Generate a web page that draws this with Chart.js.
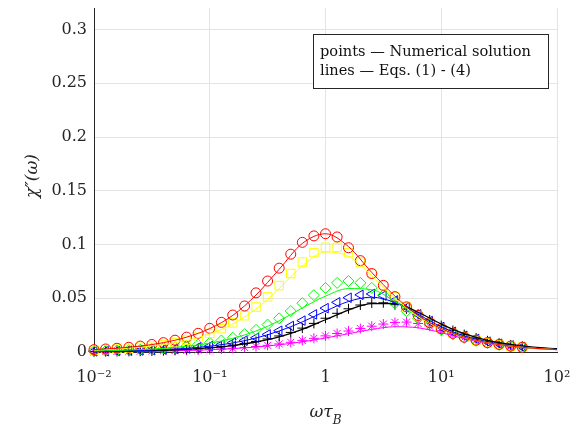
<!DOCTYPE html>
<html>
<head>
<meta charset="utf-8">
<script src="https://cdn.jsdelivr.net/npm/chart.js@4.4.1/dist/chart.umd.min.js"></script>
<style>
  html, body { margin: 0; padding: 0; background: #fff; }
  #wrap { width: 580px; height: 430px; }
</style>
</head>
<body>
<div id="wrap"><canvas id="chart" width="580" height="430"></canvas></div>
<script>
// omega*tau_B at the markers (10 per decade) and along the curves (5 per decade)
const omegaPts = [0.01, 0.0126, 0.0158, 0.02, 0.0251, 0.0316, 0.0398, 0.0501, 0.0631, 0.0794,
  0.1, 0.126, 0.158, 0.2, 0.251, 0.316, 0.398, 0.501, 0.631, 0.794,
  1, 1.26, 1.58, 2, 2.51, 3.16, 3.98, 5.01, 6.31, 7.94,
  10, 12.6, 15.8, 20, 25.1, 31.6, 39.8, 50.1];
const omegaLine = [0.01, 0.0158, 0.0251, 0.0398, 0.0631, 0.1, 0.158, 0.251, 0.398, 0.631,
  1, 1.58, 2.51, 3.98, 6.31, 10, 15.8, 25.1, 39.8, 63.1, 100];

// numerical solution (markers)
const redPts = [0.0022, 0.0028, 0.0035, 0.0044, 0.0055, 0.0070, 0.0087, 0.0110, 0.0138, 0.0174,
  0.0220, 0.0276, 0.0344, 0.0428, 0.0550, 0.0660, 0.0780, 0.0910, 0.1020, 0.1080,
  0.1100, 0.1070, 0.0970, 0.0850, 0.0730, 0.0620, 0.0515, 0.0420, 0.0340, 0.0273,
  0.0218, 0.0174, 0.0138, 0.0110, 0.0087, 0.0070, 0.0055, 0.0044];
const yellowPts = [0.0017, 0.0022, 0.0028, 0.0035, 0.0044, 0.0055, 0.0069, 0.0087, 0.0110, 0.0138,
  0.0173, 0.0217, 0.0271, 0.0338, 0.0418, 0.0512, 0.0618, 0.0730, 0.0837, 0.0924,
  0.0974, 0.0974, 0.0924, 0.0837, 0.0730, 0.0618, 0.0512, 0.0418, 0.0338, 0.0271,
  0.0217, 0.0173, 0.0138, 0.0110, 0.0087, 0.0069, 0.0055, 0.0044];
const greenPts = [0.0009, 0.0011, 0.0014, 0.0018, 0.0022, 0.0028, 0.0035, 0.0044, 0.0055, 0.0069,
  0.0086, 0.0107, 0.0133, 0.0166, 0.0206, 0.0255, 0.0313, 0.0381, 0.0454, 0.0529,
  0.0596, 0.0643, 0.0660, 0.0643, 0.0596, 0.0529, 0.0454, 0.0380, 0.0312, 0.0253,
  0.0204, 0.0164, 0.0131, 0.0104, 0.0083, 0.0066, 0.0052, 0.0042];
const bluePts = [0.0006, 0.0007, 0.0009, 0.0012, 0.0014, 0.0018, 0.0022, 0.0028, 0.0035, 0.0044,
  0.0055, 0.0069, 0.0086, 0.0107, 0.0133, 0.0163, 0.0198, 0.0242, 0.0292, 0.0350,
  0.0408, 0.0462, 0.0505, 0.0532, 0.0540, 0.0525, 0.0480, 0.0415, 0.0350, 0.0288,
  0.0233, 0.0188, 0.0151, 0.0121, 0.0096, 0.0077, 0.0061, 0.0048];
const blackPts = [0.0004, 0.0005, 0.0006, 0.0008, 0.0010, 0.0013, 0.0016, 0.0020, 0.0025, 0.0032,
  0.0040, 0.0050, 0.0063, 0.0079, 0.0098, 0.0121, 0.0149, 0.0182, 0.0222, 0.0266,
  0.0314, 0.0360, 0.0402, 0.0437, 0.0456, 0.0458, 0.0440, 0.0402, 0.0352, 0.0298,
  0.0246, 0.0200, 0.0162, 0.0130, 0.0104, 0.0083, 0.0066, 0.0053];
const magentaPts = [0.0003, 0.0004, 0.0005, 0.0006, 0.0007, 0.0009, 0.0011, 0.0013, 0.0016, 0.0019,
  0.0023, 0.0028, 0.0034, 0.0042, 0.0051, 0.0062, 0.0075, 0.0090, 0.0108, 0.0127,
  0.0150, 0.0172, 0.0195, 0.0218, 0.0240, 0.0260, 0.0275, 0.0278, 0.0265, 0.0240,
  0.0200, 0.0165, 0.0133, 0.0108, 0.0086, 0.0068, 0.0053, 0.0042];

// Eqs. (1) - (4) (lines)
const redLine = [0.0022, 0.0035, 0.0055, 0.0087, 0.0138, 0.0218, 0.0340, 0.0530, 0.0770, 0.1010,
  0.1100, 0.0980, 0.0740, 0.0520, 0.0340, 0.0218, 0.0138, 0.0087, 0.0055, 0.0035, 0.0022];
const yellowLine = [0.0017, 0.0028, 0.0044, 0.0069, 0.0108, 0.0168, 0.0260, 0.0400, 0.0590, 0.0800,
  0.0930, 0.0890, 0.0710, 0.0500, 0.0330, 0.0213, 0.0136, 0.0086, 0.0055, 0.0035, 0.0022];
const greenLine = [0.0009, 0.0014, 0.0022, 0.0034, 0.0053, 0.0082, 0.0127, 0.0195, 0.0290, 0.0410,
  0.0520, 0.0590, 0.0580, 0.0470, 0.0330, 0.0215, 0.0138, 0.0087, 0.0055, 0.0035, 0.0022];
const blueLine = [0.0006, 0.0009, 0.0014, 0.0022, 0.0034, 0.0054, 0.0084, 0.0130, 0.0195, 0.0280,
  0.0380, 0.0470, 0.0510, 0.0460, 0.0350, 0.0235, 0.0150, 0.0095, 0.0060, 0.0038, 0.0024];
const blackLine = [0.0004, 0.0006, 0.0010, 0.0015, 0.0024, 0.0038, 0.0060, 0.0093, 0.0140, 0.0210,
  0.0300, 0.0390, 0.0450, 0.0450, 0.0370, 0.0260, 0.0170, 0.0108, 0.0070, 0.0045, 0.0030];
const magentaLine = [0.0002, 0.0004, 0.0006, 0.0009, 0.0014, 0.0021, 0.0031, 0.0046, 0.0067, 0.0095,
  0.0130, 0.0170, 0.0210, 0.0235, 0.0225, 0.0180, 0.0125, 0.0082, 0.0052, 0.0033, 0.0021];

const xTicks = [0.01, 0.1, 1, 10, 100];
const xTickLabels = ['10\u207B\u00B2', '10\u207B\u00B9', '1', '10\u00B9', '10\u00B2'];
const yTicks = [0, 0.05, 0.1, 0.15, 0.2, 0.25, 0.3];
const yTickLabels = ['0', '0.05', '0.1', '0.15', '0.2', '0.25', '0.3'];
const noteLines = ['points \u2014 Numerical solution', 'lines \u2014 Eqs. (1) - (4)'];

const SERIF = "'DejaVu Serif', serif";
const INK = '#262626';

function pairs(xs, ys) {
  return ys.map((y, i) => ({ x: xs[i], y }));
}

function curve(data, color, width = 1) {
  return {
    data: pairs(omegaLine, data),
    showLine: true,
    borderColor: color,
    borderWidth: width,
    pointRadius: 0,
    cubicInterpolationMode: 'monotone',
    fill: false,
  };
}

function markers(data, color, style, radius, rotation = 0) {
  return {
    data: pairs(omegaPts, data),
    showLine: false,
    pointStyle: style,
    pointRadius: radius,
    pointRotation: rotation,
    pointBorderColor: color,
    pointBackgroundColor: 'rgba(0,0,0,0)',
    pointBorderWidth: 1,
    clip: false,
  };
}

const overlay = {
  id: 'overlay',
  afterDraw(chart) {
    const { ctx, chartArea } = chart;
    ctx.save();
    // note box
    ctx.fillStyle = '#fff';
    ctx.fillRect(313, 34, 236, 55);
    ctx.strokeStyle = INK;
    ctx.lineWidth = 1;
    ctx.strokeRect(313.5, 34.5, 235, 54);
    ctx.fillStyle = '#111';
    ctx.font = `14.6px ${SERIF}`;
    ctx.textBaseline = 'middle';
    ctx.textAlign = 'left';
    ctx.fillText(noteLines[0], 320, 52);
    ctx.fillText(noteLines[1], 320, 71);

    // x title: omega tau_B
    const cx = (chartArea.left + chartArea.right) / 2;
    ctx.fillStyle = INK;
    ctx.font = `italic 17px ${SERIF}`;
    const main = '\u03C9\u03C4';
    const w = ctx.measureText(main).width;
    ctx.font = `italic 12px ${SERIF}`;
    const ws = ctx.measureText('B').width;
    const x0 = cx - (w + ws) / 2;
    ctx.font = `italic 17px ${SERIF}`;
    ctx.textBaseline = 'alphabetic';
    ctx.fillText(main, x0, 417);
    ctx.font = `italic 12px ${SERIF}`;
    ctx.fillText('B', x0 + w, 424);

    // y title: chi''(omega)
    ctx.translate(33, 176);
    ctx.rotate(-Math.PI / 2);
    ctx.font = `italic 17px ${SERIF}`;
    ctx.textAlign = 'center';
    ctx.textBaseline = 'middle';
    ctx.fillText('\u03C7\u2033(\u03C9)', 0, 0);
    ctx.restore();
  },
};

new Chart(document.getElementById('chart'), {
  type: 'scatter',
  data: {
    datasets: [
      curve(redLine, '#ff0000'),
      curve(yellowLine, '#ffff00'),
      curve(greenLine, '#00ff00'),
      curve(blueLine, '#0000ff'),
      curve(blackLine, '#000000', 1.3),
      curve(magentaLine, '#ff00ff'),
      markers(redPts, '#ff0000', 'circle', 5),
      markers(yellowPts, '#ffff00', 'rect', 6),
      markers(greenPts, '#00ff00', 'rectRot', 5.5),
      markers(bluePts, '#0000ff', 'triangle', 5.5, -90),
      markers(blackPts, '#000000', 'cross', 5),
      markers(magentaPts, '#ff00ff', 'star', 5),
    ],
  },
  options: {
    responsive: false,
    animation: false,
    layout: { padding: { left: 0, right: 23, top: 8, bottom: 0 } },
    plugins: { legend: { display: false }, tooltip: { enabled: false } },
    scales: {
      x: {
        type: 'logarithmic',
        min: 0.01,
        max: 100,
        afterBuildTicks: (scale) => { scale.ticks = xTicks.map((value) => ({ value })); },
        afterFit: (scale) => {
          scale.height = 78;
          scale.paddingLeft = 0;
          scale.paddingRight = 0;
        },
        ticks: {
          autoSkip: false,
          maxRotation: 0,
          padding: 16,
          color: INK,
          font: { family: SERIF, size: 16 },
          callback: (value) => xTickLabels[xTicks.indexOf(value)] ?? '',
        },
        grid: { color: '#e4e4e4', drawTicks: false },
        border: { color: INK, width: 1 },
      },
      y: {
        min: 0,
        max: 0.32,
        afterBuildTicks: (scale) => { scale.ticks = yTicks.map((value) => ({ value })); },
        afterFit: (scale) => {
          scale.width = 94;
          scale.paddingTop = 0;
          scale.paddingBottom = 0;
        },
        ticks: {
          padding: 7,
          color: INK,
          font: { family: SERIF, size: 16 },
          callback: (value) => yTickLabels[yTicks.indexOf(value)] ?? '',
        },
        grid: { color: '#e4e4e4', drawTicks: false },
        border: { color: INK, width: 1 },
      },
    },
  },
  plugins: [overlay],
});
</script>
</body>
</html>
